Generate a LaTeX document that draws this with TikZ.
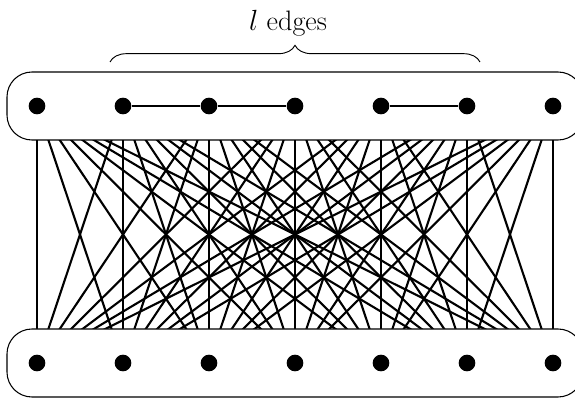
\documentclass[tikz,border=0pt]{standalone}
\usetikzlibrary{decorations.pathreplacing}
\begin{document}
\begin{tikzpicture}[x=0.03cm,y=-0.03cm,
  bip/.style={line width=1.8pt},
  setbox/.style={draw, line width=0.9pt, fill=white, rounded corners=0.75cm,
    minimum width=17.28cm, minimum height=2.04cm, inner sep=0pt},
  vdot/.style={circle, fill=black, inner sep=0pt, minimum size=0.5cm},
  tedge/.style={line width=2.2pt},
  bracestyle/.style={decorate, decoration={brace, amplitude=0.5cm}, line width=0.8pt}]
\useasboundingbox (0,0) rectangle (575,399);
\clip (0,0) rectangle (575,399);
\foreach \i/\x in {0/37,1/123,2/209,3/295,4/381,5/467,6/553}{
  \coordinate (t\i) at (\x,106);
  \coordinate (b\i) at (\x,363);
}
\foreach \i in {0,...,6}{
  \foreach \j in {0,...,6}{
    \draw[bip] (t\i) -- (b\j);
  }
}
\node[setbox] (topbox) at (295,106) {};
\node[setbox] (botbox) at (295,363) {};
\foreach \i in {0,...,6}{
  \node[vdot] (dt\i) at (t\i) {};
  \node[vdot] (db\i) at (b\i) {};
}
\draw[tedge] (dt1) -- (dt2) -- (dt3);
\draw[tedge] (dt4) -- (dt5);
\coordinate (bl) at (110,62);
\coordinate (br) at (480,62);
\draw[bracestyle] (bl) -- (br);
\node (lbl) at (288,23) {\fontsize{24}{28}\selectfont $l$ edges};
\end{tikzpicture}
\end{document}
